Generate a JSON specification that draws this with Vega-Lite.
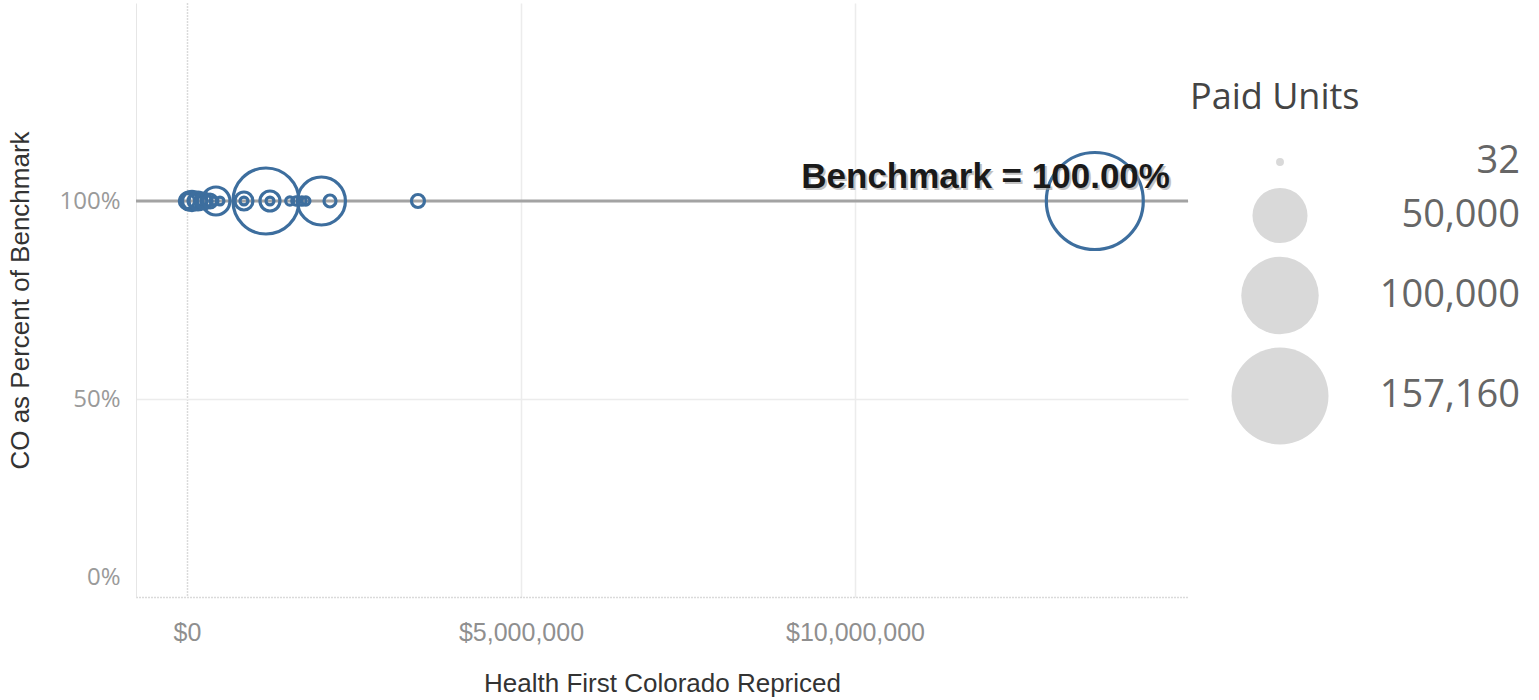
{
  "$schema": "https://vega.github.io/schema/vega-lite/v6.json",
  "width": 1052,
  "height": 594,
  "autosize": "none",
  "padding": {"left": 136, "top": 3, "right": 351, "bottom": 103},
  "background": "white",
  "config": {"view": {"stroke": null}},
  "datasets": {
    "drugs": [
      {"repriced": 13590000, "pct": 1.0, "units": 157160},
      {"repriced": 1182600, "pct": 1.0, "units": 72290},
      {"repriced": 2013000, "pct": 1.0, "units": 37760},
      {"repriced": 434000, "pct": 1.0, "units": 12180},
      {"repriced": 1242500, "pct": 1.0, "units": 5720},
      {"repriced": 853000, "pct": 1.0, "units": 4440},
      {"repriced": 3458000, "pct": 1.0, "units": 1830},
      {"repriced": 2141000, "pct": 1.0, "units": 1410},
      {"repriced": 1242500, "pct": 1.0, "units": 40},
      {"repriced": 853000, "pct": 1.0, "units": 40},
      {"repriced": 1540000, "pct": 1.0, "units": 150},
      {"repriced": 1630000, "pct": 1.0, "units": 120},
      {"repriced": 1720000, "pct": 1.0, "units": 200},
      {"repriced": 1780000, "pct": 1.0, "units": 90},
      {"repriced": 0, "pct": 1.0, "units": 2900},
      {"repriced": 30000, "pct": 1.0, "units": 4440},
      {"repriced": 75000, "pct": 1.0, "units": 5100},
      {"repriced": 120000, "pct": 1.0, "units": 2290},
      {"repriced": 165000, "pct": 1.0, "units": 4440},
      {"repriced": 210000, "pct": 1.0, "units": 1410},
      {"repriced": 255000, "pct": 1.0, "units": 3300},
      {"repriced": 300000, "pct": 1.0, "units": 670},
      {"repriced": 345000, "pct": 1.0, "units": 2290},
      {"repriced": 405000, "pct": 1.0, "units": 32},
      {"repriced": 494000, "pct": 1.0, "units": 32}
    ],
    "benchmark": [
      {"label": "Benchmark = 100.00%", "repriced": 14715000, "pct": 1.0}
    ]
  },
  "layer": [
    {
      "data": {"name": "benchmark"},
      "mark": {"type": "rule", "color": "#a3a3a3", "strokeWidth": 3},
      "encoding": {
        "y": {"field": "pct", "type": "quantitative", "scale": {"domain": [0, 1.5], "nice": false, "zero": false}}
      }
    },
    {
      "data": {"name": "drugs"},
      "mark": {"type": "point", "shape": "circle", "filled": false, "color": "#3d6e9e", "fill": "#d9d9d9", "fillOpacity": 0, "strokeWidth": 3.2, "opacity": 1},
      "encoding": {
        "x": {
          "field": "repriced", "type": "quantitative",
          "scale": {"domain": [-763000, 14985000], "nice": false, "zero": false},
          "axis": {
            "title": "Health First Colorado Repriced",
            "values": [0, 5000000, 10000000],
            "format": "$,.0f",
            "domain": false,
            "ticks": false,
            "grid": true,
            "gridColor": {"condition": {"test": "datum.value === 0", "value": "#b5b5b5"}, "value": "#ececec"},
            "gridDash": {"condition": {"test": "datum.value === 0", "value": [1, 2]}, "value": []},
            "gridWidth": 1.5,
            "labelFont": "Liberation Sans",
            "labelFontSize": 25,
            "labelColor": "#8f8f8f",
            "labelBaseline": "middle",
            "labelPadding": 35,
            "labelFlush": false,
            "titleFont": "Liberation Sans",
            "titleFontSize": 26,
            "titleFontWeight": "normal",
            "titleColor": "#333333",
            "titleBaseline": "middle",
            "titleY": 86
          }
        },
        "y": {
          "field": "pct", "type": "quantitative",
          "scale": {"domain": [0, 1.5], "nice": false, "zero": false},
          "axis": {
            "title": "CO as Percent of Benchmark",
            "values": [0, 0.5, 1.0],
            "format": ".0%",
            "domain": true,
            "domainColor": "#e6e6e6",
            "ticks": false,
            "grid": true,
            "gridColor": {"condition": {"test": "datum.value === 0", "value": "#b5b5b5"}, "value": "#ececec"},
            "gridDash": {"condition": {"test": "datum.value === 0", "value": [1, 2]}, "value": []},
            "gridWidth": 1.5,
            "labelFont": "Open Sans",
            "labelFontSize": 24,
            "labelColor": "#9a9a9a",
            "labelPadding": 16,
            "labelFlush": true,
            "labelFlushOffset": -8,
            "titleFont": "Liberation Sans",
            "titleFontSize": 26,
            "titleFontWeight": "normal",
            "titleColor": "#333333",
            "titleX": -116,
            "titleY": 297,
            "titleBaseline": "middle",
            "titleAlign": "center",
            "titleAngle": -90
          }
        },
        "size": {
          "field": "units", "type": "quantitative",
          "scale": {"type": "linear", "domain": [0, 157160], "range": [60, 9400], "zero": true},
          "legend": {
            "title": "Paid Units",
            "values": [32, 50000, 100000, 157160],
            "format": ",.0f",
            "orient": "none",
            "legendX": 1054,
            "legendY": 78,
            "titleFont": "Open Sans",
            "titleFontSize": 36,
            "titleFontWeight": "normal",
            "titleColor": "#444444",
            "titlePadding": 26,
            "labelFont": "Open Sans",
            "labelFontSize": 38,
            "labelColor": "#666666",
            "labelLimit": 400,
            "labelAlign": "right",
            "labelOffset": 190,
            "symbolOffset": 40,
            "symbolFillColor": "#d9d9d9",
            "symbolStrokeColor": "#b3b3b3",
            "symbolStrokeWidth": 3,
            "symbolOpacity": 1,
            "rowPadding": 0,
            "encode": {
              "symbols": {
                "enter": {"stroke": {"value": "#b3b3b3"}, "strokeWidth": {"value": 3}},
                "update": {"stroke": {"value": "#b3b3b3"}, "strokeWidth": {"value": 3}, "strokeOpacity": {"value": 1}}
              }
            }
          }
        }
      }
    },
    {
      "data": {"name": "benchmark"},
      "mark": {"type": "text", "align": "right", "baseline": "alphabetic", "dx": 2, "dy": -11, "font": "Liberation Sans", "fontSize": 35, "fontWeight": "bold", "color": "#9a9a9a", "opacity": 0.6},
      "encoding": {
        "x": {"field": "repriced", "type": "quantitative"},
        "y": {"field": "pct", "type": "quantitative"},
        "text": {"field": "label"}
      }
    },
    {
      "data": {"name": "benchmark"},
      "mark": {"type": "text", "align": "right", "baseline": "alphabetic", "dy": -13, "font": "Liberation Sans", "fontSize": 35, "fontWeight": "bold", "color": "#1a1a1a"},
      "encoding": {
        "x": {"field": "repriced", "type": "quantitative"},
        "y": {"field": "pct", "type": "quantitative"},
        "text": {"field": "label"}
      }
    }
  ]
}
